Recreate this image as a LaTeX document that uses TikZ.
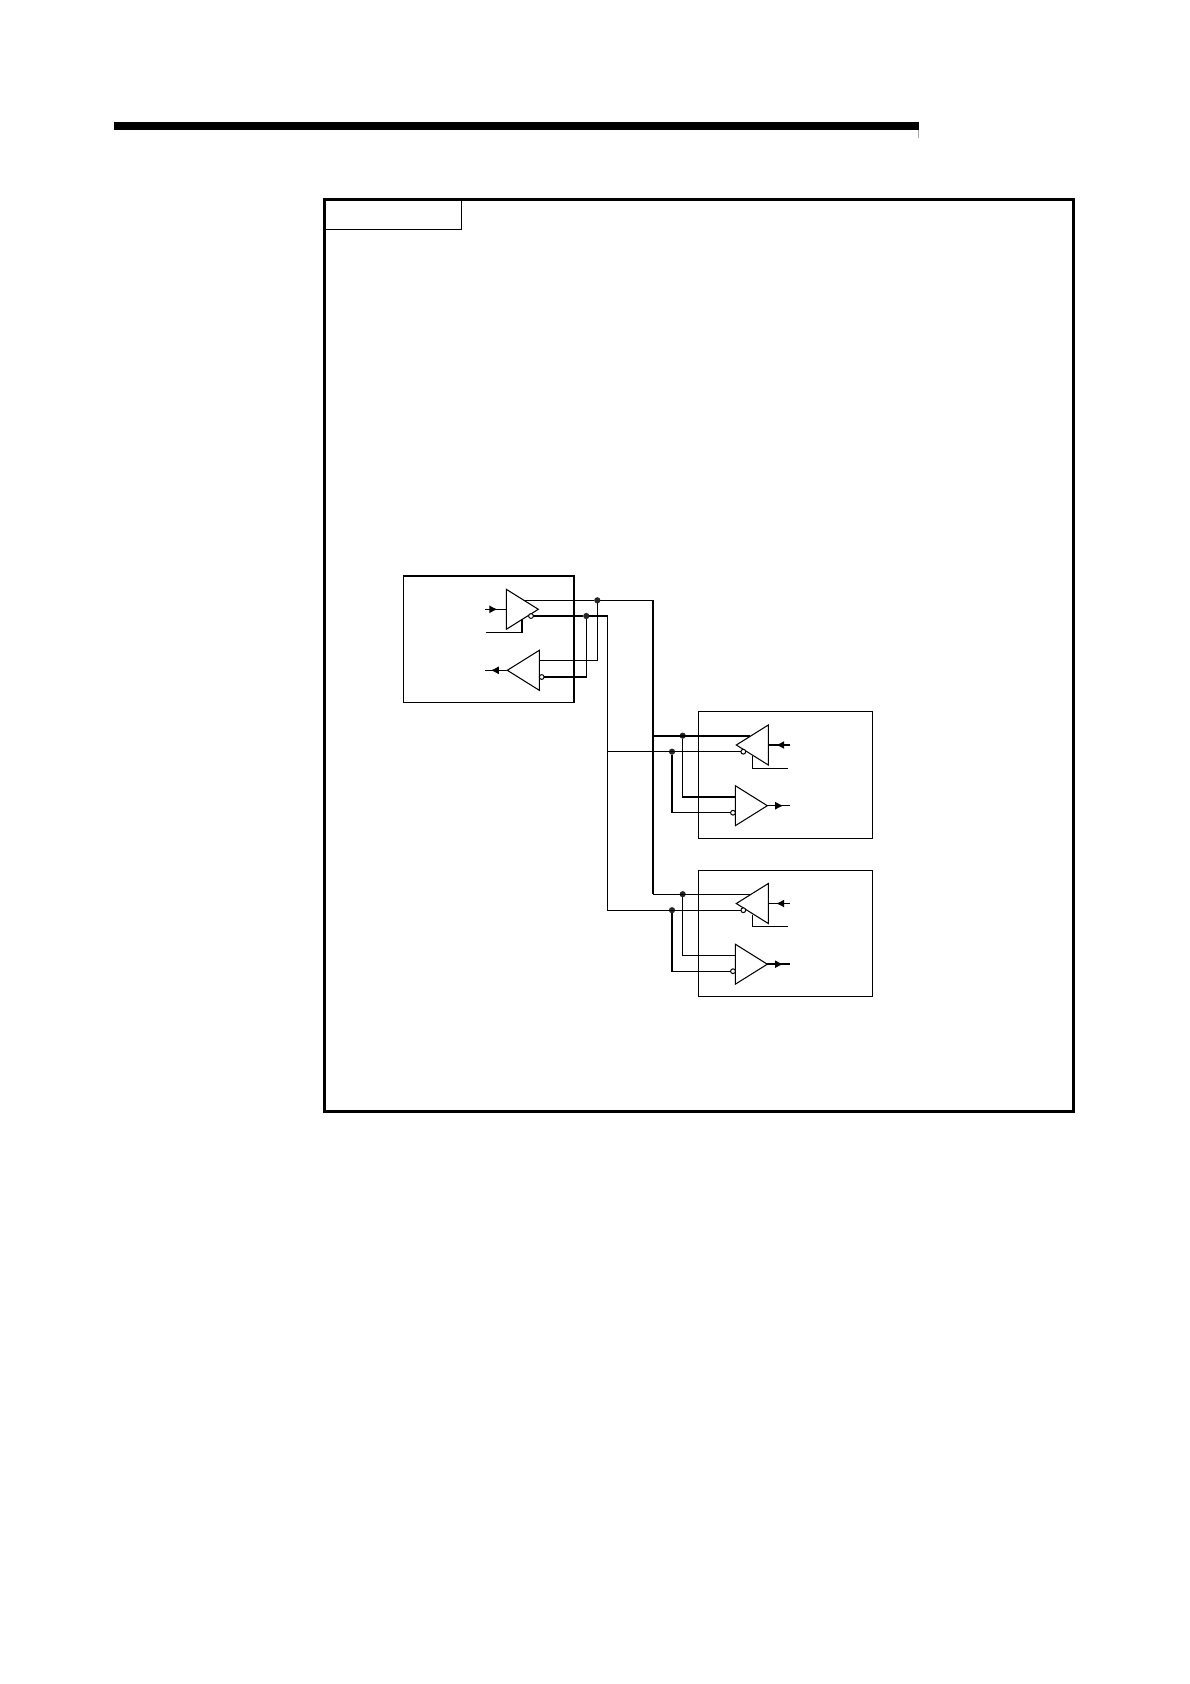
\documentclass[tikz,border=0pt]{standalone}
\usepackage{tikz}
\usetikzlibrary{shapes.geometric,decorations.markings,arrows.meta}
\tikzstyle{wire} = [line width=1.05pt]
\tikzstyle{bus} = [line width=2.2pt]
\tikzstyle{unit} = [draw, line width=1.05pt, inner sep=0, outer sep=0, anchor=north west]
\tikzstyle{drv} = [draw, line width=1.05pt, isosceles triangle, isosceles triangle stretches, minimum height=32pt, minimum width=40pt, inner sep=0, outer sep=0, anchor=apex]
\tikzstyle{inv} = [draw, circle, fill=white, line width=1pt, minimum size=4.8pt, inner sep=0, outer sep=0]
\tikzstyle{dot} = [circle, fill=black!85, minimum size=6.2pt, inner sep=0, outer sep=0]
\tikzstyle{sig} = [postaction={decorate}, decoration={markings, mark=at position #1 with {\arrow{Latex[length=8pt,width=8pt]}}}]

\begin{document}
\begin{tikzpicture}[x=1pt,y=-1pt]
	\useasboundingbox (0,0) rectangle (1190,1684);
	% page rule and frame
	\fill[black] (114,122) rectangle (919,130);
	\draw[black!35,line width=0.7pt] (918.7,130) -- (918.7,138);
	\node (frame) [unit,line width=3pt,minimum width=749pt,minimum height=911.5pt] at (324.5,199.5) {};
	\node (tab) [unit,minimum width=137pt,minimum height=29.8pt] at (frame.north west) {};
	% master station
	\node (boxa) [unit,minimum width=170.7pt,minimum height=126.7pt] at (403.3,576) {};
	\draw[line width=1.7pt] (boxa.north east) -- (boxa.south east);
	\node (txa) [drv] at (538.3,609.3) {};
	\node (rxa) [drv,shape border rotate=180] at (507.3,670.3) {};
	\node (txainv) [inv] at (531,616) {};
	\node (rxainv) [inv] at (541.7,677) {};
	\node (dota) [dot] at (597.3,600.3) {};
	\node (dotbar) [dot] at (586.3,616) {};
	\coordinate (txain) at (485,609.3);
	\coordinate (rxaout) at (485,670.3);
	\coordinate (txaen) at (486,632.7);
	\coordinate (txaenp) at (522,619);
	\coordinate (txaq) at (525,600.3);
	\coordinate (rxap) at (539,660.7);
	\coordinate (bustop) at (653,600.3);
	\coordinate (busend) at (653,894.2);
	\coordinate (bartop) at (607.3,616);
	\coordinate (barend) at (607.3,910.2);
	\draw[wire,sig=.58] (txain) -- (txa.west |- txain);
	\draw[wire,sig=.74] (rxa.apex) -- (rxaout);
	\draw[wire] (txaen) -| (txaenp);
	\draw[wire] (txaq) -- (dota) -- (bustop);
	\draw[wire] (txainv) -- (dotbar) -- (bartop) -- (barend);
	\draw[wire] (rxap) -| (dota);
	\draw[wire] (rxainv) -| (dotbar);
	\draw[bus] (bustop) -- (busend);
	% slave stations
	\foreach \st/\off/\lw/\ow in {b/0/2.2pt/1.05pt,c/158.5/1.3pt/2.2pt} {
		\begin{scope}[shift={(0,\off)}]
			\node (box\st) [unit,minimum width=173.6pt,minimum height=126.6pt] at (698.7,711.7) {};
			\node (rx\st) [drv,shape border rotate=180] at (736.3,745) {};
			\node (tx\st) [drv] at (767.3,805.7) {};
			\node (rx\st inv) [inv] at (743.3,751.7) {};
			\node (tx\st inv) [inv] at (733,812.7) {};
			\node (dot\st) [dot] at (682.7,735.7) {};
			\node (dotbar\st) [dot] at (672,751.7) {};
			\coordinate (tap\st) at (653,735.7);
			\coordinate (rxp\st) at (750,735.7);
			\coordinate (tapbar\st) at (607.3,751.7);
			\coordinate (rxin\st) at (790,745);
			\coordinate (rxinp\st) at (767.7,745);
			\coordinate (txout\st) at (790,805.7);
			\coordinate (rxenp\st) at (752.7,756);
			\coordinate (rxen\st) at (788.3,768.3);
			\coordinate (txp\st) at (735.7,797);
			\draw[line width=\lw] (tap\st) -- (rxp\st);
			\draw[wire] (tapbar\st) -- (rx\st inv);
			\draw[wire] (dot\st) |- (txp\st);
			\draw[wire] (dotbar\st) |- (tx\st inv);
			\draw[wire] (rxenp\st) |- (rxen\st);
			\draw[wire,sig=.62] (rxin\st) -- (rxinp\st);
			\draw[line width=\ow,sig=.7] (tx\st.apex) -- (txout\st);
		\end{scope}
	}
\end{tikzpicture}
\end{document}
